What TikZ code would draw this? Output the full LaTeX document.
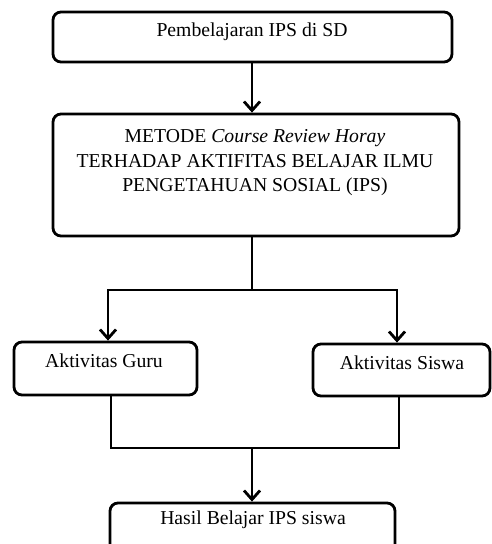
\documentclass[tikz,border=0pt]{standalone}
\usepackage{fontspec}
\setmainfont{Liberation Serif}
\usetikzlibrary{arrows.meta}
\begin{document}
\begin{tikzpicture}[x=1pt,y=-1pt,
  box/.style={draw, line width=2.8pt, rounded corners=8pt, inner sep=0pt},
  txt/.style={font=\fontsize{19.7}{24.5}\selectfont, align=center, inner sep=0pt},
  conn/.style={line width=2.8pt},
  arr/.style={line width=2.8pt, -{Straight Barb[length=9pt,width=16pt,line width=2.8pt]}}]
\useasboundingbox (0,0) rectangle (492,544);
\clip (0,0) rectangle (492,544);
% boxes
\node[box, minimum width=399pt, minimum height=50pt] (b1) at (252.5,37) {};
\node[txt] (t1) at (252,32) {Pembelajaran IPS di SD};
\node[box, minimum width=406pt, minimum height=122pt] (b2) at (256,175) {};
\node[txt] (t2) at (255,163) {METODE \textit{Course Review Horay}\\TERHADAP AKTIFITAS BELAJAR ILMU\\PENGETAHUAN SOSIAL (IPS)};
\node[box, minimum width=183pt, minimum height=53pt] (bl) at (105.5,368.5) {};
\node[txt] (tl) at (104,361) {Aktivitas Guru};
\node[box, minimum width=177pt, minimum height=52pt] (br) at (401.5,370) {};
\node[txt] (tr) at (402,363) {Aktivitas Siswa};
\node[box, minimum width=285pt, minimum height=56pt] (b3) at (252.5,531) {};
\node[txt] (t3) at (253,520) {Hasil Belajar IPS siswa};
% connectors
\coordinate (s1) at (252,62);
\draw[arr] (s1) -- (s1 |- b2.north);
\coordinate (s2) at (252,236);
\coordinate (j1) at (252,290);
\coordinate (jl) at (108,290);
\coordinate (jr) at (397,290);
\draw[conn] (s2) -- (j1);
\draw[conn, line cap=rect] (jl) -- (jr);
\draw[arr] (jl) -- (jl |- bl.north);
\draw[arr] (jr) -- (jr |- br.north);
\coordinate (dl) at (111,448);
\coordinate (dr) at (399,448);
\draw[conn, line join=miter] (dl |- bl.south) -- (dl) -- (dr) -- (dr |- br.south);
\coordinate (d3) at (252,448);
\draw[arr] (d3) -- (d3 |- b3.north);
\end{tikzpicture}
\end{document}
